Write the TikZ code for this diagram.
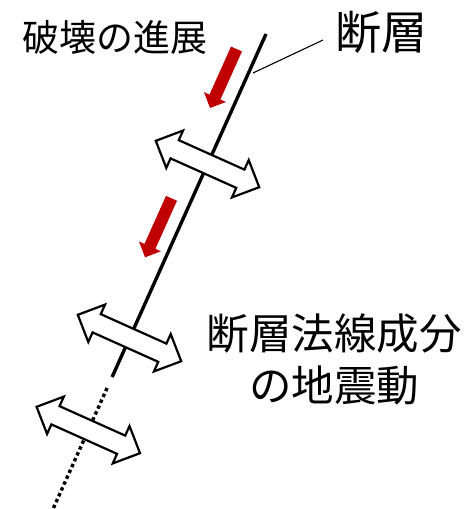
\documentclass[tikz,border=0pt]{standalone}
\usepackage{fontspec}
\newfontfamily\jp{Noto Sans CJK JP}
\definecolor{redarrow}{HTML}{C00000}
\tikzset{
  x=1pt, y=-1pt,
  faultline/.style={line width=3.4pt, line cap=butt},
  faultdots/.style={line width=3.4pt, dash pattern=on 3.4pt off 3pt},
  dblarrow/.style={draw=black, fill=white, line width=2.2pt, line join=miter},
  redarr/.style={fill=redarrow, draw=none},
  leader/.style={line width=1.1pt},
  lbl/.style={inner sep=0pt, anchor=base, text=black}
}
\newcommand{\dblarrowat}[1]{%
  \begin{scope}[shift={#1}, x={(0.912pt,-0.409pt)}, y={(-0.409pt,-0.912pt)}]
    \draw[dblarrow] (-56.7,0) -- (-36,-20.5) -- (-36,-10) -- (36,-10) -- (36,-20.5)
      -- (56.7,0) -- (36,20.5) -- (36,10) -- (-36,10) -- (-36,20.5) -- cycle;
  \end{scope}}
\newcommand{\redarrowat}[1]{%
  \begin{scope}[shift={#1}, x={(-0.409pt,-0.912pt)}, y={(0.912pt,-0.409pt)}]
    \fill[redarr] (0,-6) -- (52.7,-6) -- (52.7,-12) -- (64.7,0) -- (52.7,12) -- (52.7,6) -- (0,6) -- cycle;
  \end{scope}}
\begin{document}
\begin{tikzpicture}
\useasboundingbox (0,0) rectangle (467,509);
% fault
\coordinate (ftop) at (266,34);
\coordinate (fend) at (112.1,377);
\coordinate (dstart) at (107.1,388);
\coordinate (dend) at (53,509);
\draw[faultline] (ftop) -- (fend);
\draw[faultdots] (dstart) -- (dend);
% double arrows (fault-normal motion)
\dblarrowat{(207.5,164)}
\dblarrowat{(129.5,338)}
\dblarrowat{(88.3,430)}
% red arrows (rupture propagation)
\redarrowat{(236.5,49)}
\redarrowat{(171.5,198.3)}
% labels
\node[lbl, font=\jp\fontsize{37}{44}\selectfont] (rupture) at (115,51) {破壊の進展};
\node[lbl, font=\jp\fontsize{46}{54}\selectfont] (danso) at (381,49) {断層};
\node[lbl, font=\jp\fontsize{42.5}{52.5}\selectfont] (normal1) at (334,349) {断層法線成分};
\node[lbl, font=\jp\fontsize{42.5}{52.5}\selectfont] (normal2) at (334,401.5) {の地震動};
% leader
\coordinate (leadA) at (253,73);
\coordinate (leadB) at (323,40);
\draw[leader] (leadA) -- (leadB);
\end{tikzpicture}
\end{document}
